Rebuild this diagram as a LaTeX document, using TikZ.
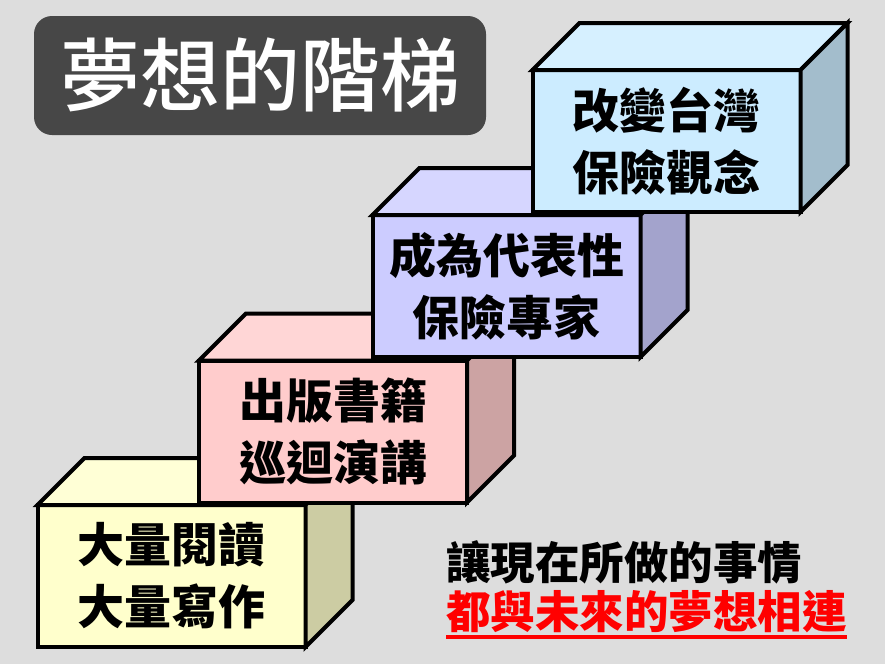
\documentclass[tikz,border=0pt]{standalone}
\usepackage{fontspec}
\newfontfamily\cjk{Noto Sans CJK TC}
\newfontfamily\cjkmed{Noto Sans CJK TC Medium}
\usepackage{xcolor}
\usepackage{tikz}
\usetikzlibrary{positioning}
\definecolor{bggray}{HTML}{DDDDDD}
\definecolor{titlegray}{HTML}{474747}
\definecolor{readfill}{HTML}{FFFFCC}
\definecolor{bookfill}{HTML}{FFCCCC}
\definecolor{expertfill}{HTML}{CCCCFF}
\definecolor{changefill}{HTML}{CCECFF}
\definecolor{linkred}{HTML}{FF0000}
\tikzset{
    stepfront/.style={
        rectangle, draw=black, fill=#1, line width=4pt,
        minimum width=268pt, minimum height=142pt, inner sep=0pt, outer sep=0pt,
        font=\cjk\bfseries\fontsize{47}{62}\selectfont, align=center
    },
    steptop/.style={
        draw=black, fill=#1!80!white, line width=4pt
    },
    stepside/.style={
        draw=black, fill=#1!80!black, line width=4pt
    },
    titlebox/.style={
        rectangle, rounded corners=18pt, fill=titlegray, text=white,
        minimum width=452pt, minimum height=119pt,
        font=\cjkmed\fontsize{80}{80}\selectfont
    },
    mottotext/.style={
        anchor=west, inner sep=0pt, outer sep=0pt,
        font=\cjk\bfseries\fontsize{44.5}{50}\selectfont
    },
}

\begin{document}
\begin{tikzpicture}[x=1pt, y=-1pt]

    % Background
    \fill[bggray] (0,0) rectangle (885,664);

    % Title
    \node[titlebox] (title) at (260,75.5) {夢想的階梯};

    % Step 1: reading and writing
    \node[stepfront=readfill] (read) at (171.5,576) {大量閱讀\\大量寫作};
    \draw[steptop=readfill] (read.north west) -- ++(47,-47) -- ++(268,0) -- (read.north east) -- cycle;
    \draw[stepside=readfill] (read.north east) -- ++(47,-47) -- ++(0,142) -- (read.south east) -- cycle;

    % Step 2: books and talks
    \node[stepfront=bookfill] (book) at (333,431.5) {出版書籍\\巡迴演講};
    \draw[steptop=bookfill] (book.north west) -- ++(47,-47) -- ++(268,0) -- (book.north east) -- cycle;
    \draw[stepside=bookfill] (book.north east) -- ++(47,-47) -- ++(0,142) -- (book.south east) -- cycle;

    % Step 3: expert
    \node[stepfront=expertfill] (expert) at (506.5,286) {成為代表性\\保險專家};
    \draw[steptop=expertfill] (expert.north west) -- ++(47,-47) -- ++(268,0) -- (expert.north east) -- cycle;
    \draw[stepside=expertfill] (expert.north east) -- ++(47,-47) -- ++(0,142) -- (expert.south east) -- cycle;

    % Step 4: change
    \node[stepfront=changefill] (change) at (666.5,141) {改變台灣\\保險觀念};
    \draw[steptop=changefill] (change.north west) -- ++(47,-47) -- ++(268,0) -- (change.north east) -- cycle;
    \draw[stepside=changefill] (change.north east) -- ++(47,-47) -- ++(0,142) -- (change.south east) -- cycle;

    % Motto
    \node[mottotext] (now) at (446,562) {讓現在所做的事情};
    \node[mottotext, text=linkred] (future) at (446,612) {都與未來的夢想相連};
    \draw[linkred, line width=4pt] ([yshift=-4pt]future.south west) -- ([yshift=-4pt]future.south east);

\end{tikzpicture}
\end{document}
